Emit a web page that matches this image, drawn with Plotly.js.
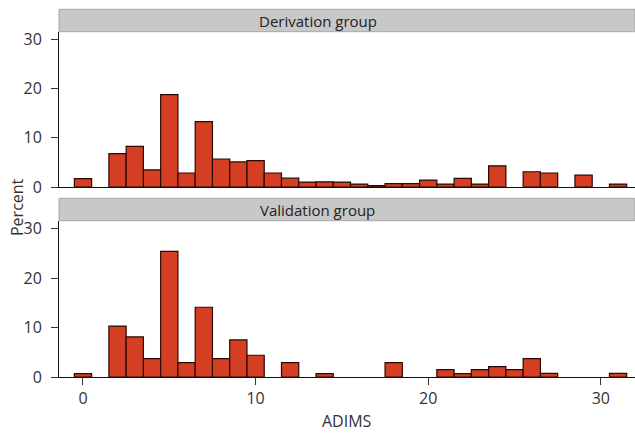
<!DOCTYPE html>
<html>
<head>
<meta charset="utf-8">
<script src="https://cdn.plot.ly/plotly-3.0.1.min.js"></script>
<style>html,body{margin:0;padding:0;background:#fff;}#chart{width:635px;height:433px;}</style>
</head>
<body>
<div id="chart"></div>
<script>
const adims = [0,1,2,3,4,5,6,7,8,9,10,11,12,13,14,15,16,17,18,19,20,21,22,23,24,25,26,27,28,29,30,31];
const derivation = [1.7,null,6.8,8.25,3.5,18.8,2.85,13.3,5.7,5.1,5.35,2.85,1.8,1.0,1.05,1.0,0.6,0.3,0.7,0.7,1.4,0.6,1.75,0.6,4.3,null,3.1,2.85,null,2.4,null,0.6];
const validation = [0.7,null,10.3,8.1,3.7,25.4,2.9,14.1,3.7,7.5,4.4,null,2.9,null,0.7,null,null,null,2.9,null,null,1.5,0.7,1.5,2.1,1.5,3.7,0.75,null,null,null,0.75];
const panelNames = ['Derivation group','Validation group'];
const yTicks = [0,10,20,30];
const xTicks = [0,10,20,30];

const W = 635, H = 433;
const margin = {l:59, r:0, t:9, b:56};
const ph = H - margin.t - margin.b;
const pw = W - margin.l - margin.r;
const py = px => (H - margin.b - px) / ph;
const pxX = px => (px - margin.l) / pw;

const barStyle = {color:'#d43f24', line:{color:'#2a0800', width:1.2}};
const traces = [
  {type:'bar', x:adims, y:derivation, width:1, marker:barStyle, xaxis:'x2', yaxis:'y2', hoverinfo:'x+y'},
  {type:'bar', x:adims, y:validation, width:1, marker:barStyle, xaxis:'x', yaxis:'y', hoverinfo:'x+y'}
];

const font = {family:'"Open Sans", "DejaVu Sans", sans-serif', size:16, color:'#333'};
const yax = d => ({domain:d, range:[0,31.6], tickvals:yTicks, ticks:'outside', ticklen:7, tickcolor:'#333', tickwidth:1,
  showline:true, linecolor:'#111', linewidth:1, showgrid:false, zeroline:false, ticklabelstandoff:6, tickfont:{size:16, color:'#333'}, fixedrange:true});
const xrange = [-1.39, 31.98];

const strips = [[py(31.7), py(9.3)], [py(220.7), py(198.3)]];
const shapes = strips.map(s => ({type:'rect', xref:'paper', yref:'paper', x0:0, x1:1, y0:s[0], y1:s[1], fillcolor:'#c8c8c8', line:{color:'#a8a8a8', width:1}, layer:'above'}));
const annotations = strips.map((s,i) => ({xref:'paper', yref:'paper', x:pxX(317.5), y:(s[0]+s[1])/2, text:panelNames[i], showarrow:false, xanchor:'center', yanchor:'middle', font:{size:15, color:'#222'}}));
annotations.push({xref:'paper', yref:'paper', x:pxX(17), y:py(207), text:'Percent', textangle:-90, showarrow:false, xanchor:'center', yanchor:'middle', font:{size:16, color:'#333'}});
annotations.push({xref:'paper', yref:'paper', x:0.5, y:py(421), text:'ADIMS', showarrow:false, xanchor:'center', yanchor:'middle', font:{size:16, color:'#333'}});

const layout = {
  width:W, height:H, margin:margin, paper_bgcolor:'#fff', plot_bgcolor:'#fff', font:font, showlegend:false, bargap:0,
  xaxis:{domain:[0,1], anchor:'y', range:xrange, tickvals:xTicks, ticks:'outside', ticklen:7, tickcolor:'#333', showline:true, linecolor:'#111', linewidth:1, showgrid:false, zeroline:false, tickfont:{size:16,color:'#333'}, fixedrange:true},
  xaxis2:{domain:[0,1], anchor:'y2', matches:'x', range:xrange, showticklabels:false, ticks:'', showline:true, linecolor:'#111', linewidth:1, showgrid:false, zeroline:false, fixedrange:true},
  yaxis:Object.assign(yax([0, py(220.7)]), {anchor:'x'}),
  yaxis2:Object.assign(yax([py(187), py(31.7)]), {anchor:'x2'}),
  shapes:shapes, annotations:annotations
};
Plotly.newPlot('chart', traces, layout, {displayModeBar:false, staticPlot:true});
</script>
</body>
</html>
